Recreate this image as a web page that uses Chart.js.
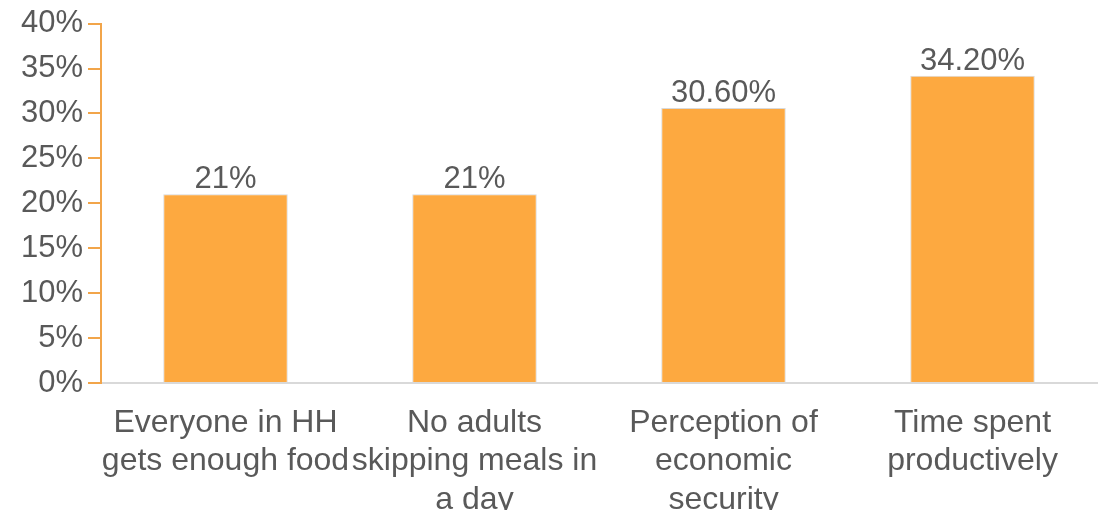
<!DOCTYPE html>
<html>
<head>
<meta charset="utf-8">
<script src="https://cdn.jsdelivr.net/npm/chart.js@4"></script>
<style>
  html, body { margin: 0; padding: 0; background: #fff; }
  #wrap { width: 1106px; height: 510px; position: relative; }
</style>
</head>
<body>
<div id="wrap"><canvas id="barChart"></canvas></div>
<script>
const categories = [
  ['Everyone in HH', 'gets enough food'],
  ['No adults', 'skipping meals in', 'a day'],
  ['Perception of', 'economic', 'security'],
  ['Time spent', 'productively']
];
const values = [21, 21, 30.6, 34.2];
const valueLabels = ['21%', '21%', '30.60%', '34.20%'];
const yTicks = [0, 5, 10, 15, 20, 25, 30, 35, 40];

const textColor = '#595959';
const barColor = '#FDA940';
const fontFamily = '"Liberation Sans", Arial, sans-serif';

// draws the value above each bar
const valueLabelPlugin = {
  id: 'valueLabels',
  afterDatasetsDraw(chart) {
    const { ctx } = chart;
    const meta = chart.getDatasetMeta(0);
    ctx.save();
    ctx.font = '31px ' + fontFamily;
    ctx.fillStyle = textColor;
    ctx.textAlign = 'center';
    ctx.textBaseline = 'alphabetic';
    meta.data.forEach((bar, i) => {
      ctx.fillText(valueLabels[i], bar.x, bar.y - 6);
    });
    ctx.restore();
  }
};

const ctx = document.getElementById('barChart').getContext('2d');
new Chart(ctx, {
  type: 'bar',
  data: {
    labels: categories,
    datasets: [{
      data: values,
      backgroundColor: barColor,
      borderColor: '#d9d9d9',
      borderWidth: { top: 1, left: 1, right: 1, bottom: 0 },
      categoryPercentage: 1,
      barPercentage: 0.5
    }]
  },
  options: {
    responsive: true,
    maintainAspectRatio: false,
    animation: false,
    layout: { padding: { top: 21, right: 9, left: 0, bottom: 0 } },
    plugins: {
      legend: { display: false },
      tooltip: { enabled: false }
    },
    scales: {
      x: {
        grid: { display: false },
        border: { color: '#d9d9d9', width: 2 },
        ticks: {
          color: textColor,
          font: { family: fontFamily, size: 32, lineHeight: 1.2 },
          padding: 13,
          maxRotation: 0,
          autoSkip: false
        },
        afterFit(scale) { scale.height = 127; }
      },
      y: {
        min: 0,
        max: 40,
        afterBuildTicks(scale) { scale.ticks = yTicks.map(v => ({ value: v })); },
        grid: {
          drawOnChartArea: false,
          drawTicks: true,
          tickLength: 13,
          color: '#f2a54a',
          lineWidth: 2
        },
        border: { color: '#f2a54a', width: 2 },
        ticks: {
          color: textColor,
          font: { family: fontFamily, size: 31 },
          padding: 5,
          callback: v => v + '%'
        },
        afterFit(scale) { scale.width = 101; }
      }
    }
  },
  plugins: [valueLabelPlugin]
});
</script>
</body>
</html>
